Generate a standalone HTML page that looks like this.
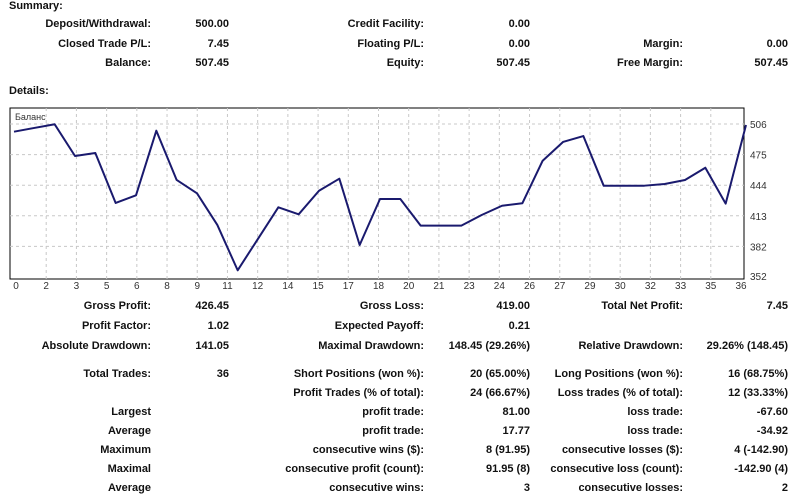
<!DOCTYPE html>
<html><head><meta charset="utf-8"><style>
body{margin:0;width:800px;height:498px;background:#fff;position:relative;overflow:hidden;font-family:"Liberation Sans",sans-serif;font-weight:bold;font-size:11px;color:#111}
.t{position:absolute;white-space:nowrap;line-height:13px}
.r{text-align:right}
</style></head><body>
<div id="txt"></div>
<svg id="chart" width="800" height="498" style="position:absolute;left:0;top:0"></svg>
<script>
const rows=[
[7,[[9,'Summary:','l','summary-title']]],
[25,[[151,'Deposit/Withdrawal:'],[229,'500.00'],[424,'Credit Facility:'],[530,'0.00']]],
[45,[[151,'Closed Trade P/L:'],[229,'7.45'],[424,'Floating P/L:'],[530,'0.00'],[683,'Margin:'],[788,'0.00']]],
[64,[[151,'Balance:'],[229,'507.45'],[424,'Equity:'],[530,'507.45'],[683,'Free Margin:'],[788,'507.45']]],
[92,[[9,'Details:','l','details-title']]],
[307,[[151,'Gross Profit:'],[229,'426.45'],[424,'Gross Loss:'],[530,'419.00'],[683,'Total Net Profit:'],[788,'7.45']]],
[327,[[151,'Profit Factor:'],[229,'1.02'],[424,'Expected Payoff:'],[530,'0.21']]],
[347,[[151,'Absolute Drawdown:'],[229,'141.05'],[424,'Maximal Drawdown:'],[530,'148.45 (29.26%)'],[683,'Relative Drawdown:'],[788,'29.26% (148.45)']]],
[375,[[151,'Total Trades:'],[229,'36'],[424,'Short Positions (won %):'],[530,'20 (65.00%)'],[683,'Long Positions (won %):'],[788,'16 (68.75%)']]],
[394,[[424,'Profit Trades (% of total):'],[530,'24 (66.67%)'],[683,'Loss trades (% of total):'],[788,'12 (33.33%)']]],
[413,[[151,'Largest'],[424,'profit trade:'],[530,'81.00'],[683,'loss trade:'],[788,'-67.60']]],
[432,[[151,'Average'],[424,'profit trade:'],[530,'17.77'],[683,'loss trade:'],[788,'-34.92']]],
[451,[[151,'Maximum'],[424,'consecutive wins ($):'],[530,'8 (91.95)'],[683,'consecutive losses ($):'],[788,'4 (-142.90)']]],
[470,[[151,'Maximal'],[424,'consecutive profit (count):'],[530,'91.95 (8)'],[683,'consecutive loss (count):'],[788,'-142.90 (4)']]],
[489,[[151,'Average'],[424,'consecutive wins:'],[530,'3'],[683,'consecutive losses:'],[788,'2']]]
];
const T=document.getElementById('txt');
rows.forEach(([y,cells])=>cells.forEach(c=>{
 const d=document.createElement('div');
 d.className='t';
 d.textContent=c[1];
 if(c[2]==='l'){d.style.left=c[0]+'px';}
 else{d.classList.add('r');d.style.right=(800-c[0])+'px';}
 d.style.top=(y-7)+'px';
 
 
 T.appendChild(d);
}));
</script>
<script>
const balance=[498.2,502,505.7,473.6,476.6,426,433.8,499.2,449.3,435.8,403.7,357.8,389.7,421.6,414.5,438.4,450.6,383.4,430,430,403,403,403,413.8,423.2,425.7,468.8,487.8,493.8,443.5,443.5,443.5,445.2,449.3,461.7,425.3,505];
const yTicks=[352,382,413,444,475,506];
const xTickLabels=['0','2','3','5','6','8','9','11','12','14','15','17','18','20','21','23','24','26','27','29','30','32','33','35','36'];
const NS='http://www.w3.org/2000/svg';
const svg=document.getElementById('chart');
const L=10,R=744,Tp=108,B=279;
const X0=14,X1=746;
function xs(i){return X0+i*(X1-X0)/(balance.length-1);}
function ys(v){return 124+(506-v)*152/154;}
function el(t,a){const e=document.createElementNS(NS,t);for(const k in a)e.setAttribute(k,a[k]);svg.appendChild(e);return e;}
const frame=el('rect',{x:L,y:Tp,width:R-L,height:B-Tp,fill:'#fff',stroke:'#000','stroke-width':1});


yTicks.forEach(v=>{
 const y=ys(v);
 if(v!==352){const g=el('line',{x1:L,x2:R,y1:y,y2:y,stroke:'#c8c8c8','stroke-dasharray':'3,3'});
 
 }
 const t=el('text',{x:R+6,y:y+4,'font-size':10,'font-weight':'normal',fill:'#333','font-family':'Liberation Sans, sans-serif'});
 t.textContent=v;
 
 
});
xTickLabels.forEach((s,k)=>{
 const x=16+k*(741-16)/(xTickLabels.length-1);
 if(k>0&&k<xTickLabels.length-1){const g=el('line',{x1:x,x2:x,y1:Tp,y2:B,stroke:'#c8c8c8','stroke-dasharray':'3,3'});
 
 }
 const t=el('text',{x:x,y:B+10,'font-size':10,'font-weight':'normal',fill:'#333','text-anchor':'middle','font-family':'Liberation Sans, sans-serif'});
 t.textContent=s;
 
 
});
const pl=el('polyline',{points:balance.map((v,i)=>xs(i)+','+ys(v)).join(' '),fill:'none',stroke:'#1a1a6e','stroke-width':2,'stroke-linejoin':'round'});


const lg=el('text',{x:15,y:120,'font-size':9,'font-weight':'normal',fill:'#333','font-family':'Liberation Sans, sans-serif'});
lg.textContent='Баланс';


</script>
</body></html>
